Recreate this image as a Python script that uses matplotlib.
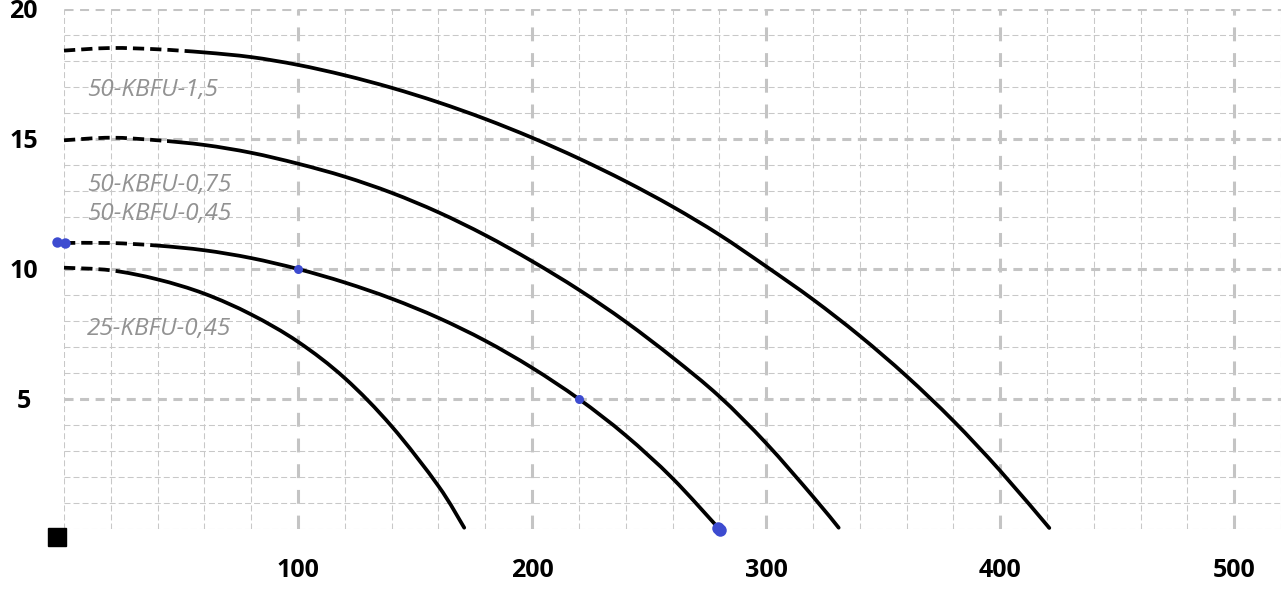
import matplotlib
matplotlib.use("Agg")
import numpy as np
import matplotlib.pyplot as plt
from matplotlib.patches import Rectangle, PathPatch
from matplotlib.path import Path
from matplotlib.ticker import MultipleLocator
from matplotlib.transforms import offset_copy

# pump curves: flow (x) vs head (y)
q_15 = [0, 20, 40, 60, 80, 100, 120, 140, 160, 180, 200, 220, 240, 260, 280, 300, 320, 340, 360, 380, 400, 421]
h_15 = [18.4, 18.5, 18.45, 18.33, 18.15, 17.85, 17.45, 16.97, 16.41, 15.77, 15.05, 14.25, 13.37, 12.4, 11.32, 10.1, 8.83, 7.43, 5.88, 4.16, 2.24, 0.04]

q_075 = [0, 20, 40, 60, 80, 100, 120, 140, 160, 180, 200, 220, 240, 260, 280, 300, 320, 331]
h_075 = [14.95, 15.05, 14.95, 14.77, 14.47, 14.05, 13.55, 12.93, 12.18, 11.3, 10.3, 9.2, 7.97, 6.6, 5.1, 3.3, 1.25, 0.05]

q_045 = [0, 20, 40, 60, 80, 100, 120, 140, 160, 180, 200, 220, 240, 260, 280]
h_045 = [11.0, 11.0, 10.9, 10.72, 10.42, 10.0, 9.48, 8.86, 8.12, 7.24, 6.2, 5.0, 3.6, 1.95, 0.0]

q_25 = [0, 20, 40, 60, 80, 100, 120, 140, 160, 171]
h_25 = [10.05, 9.95, 9.6, 9.05, 8.25, 7.2, 5.8, 3.95, 1.65, 0.05]

# flow where each curve switches from dashed to solid
dash_until = [52, 44, 37, 23]

curve_names = ["50-KBFU-1,5", "50-KBFU-0,75", "50-KBFU-0,45", "25-KBFU-0,45"]
label_x = [10, 10, 10, 10]
label_y = [16.9, 13.25, 12.1, 7.7]

# blue operating points
pt_q = [-3, 0.5, 100, 220, 279.5, 280.5]
pt_h = [11.05, 11.0, 10.0, 5.0, 0.05, -0.05]
pt_size = [7.5, 7.5, 6.5, 6.5, 9, 9]

x_ticks = [100, 200, 300, 400, 500]
y_ticks = [5, 10, 15, 20]


def smooth_path(xs, ys):
    # catmull-rom through the read points, drawn as cubic beziers
    p = np.column_stack([xs, ys]).astype(float)
    n = len(p)
    verts = [p[0]]
    codes = [Path.MOVETO]
    for i in range(n - 1):
        p0 = p[max(i - 1, 0)]
        p1 = p[i]
        p2 = p[i + 1]
        p3 = p[min(i + 2, n - 1)]
        verts += [p1 + (p2 - p0) / 6, p2 - (p3 - p1) / 6, p2]
        codes += [Path.CURVE4] * 3
    return Path(verts, codes)


plt.rcParams['font.family'] = ['Open Sans', 'DejaVu Sans']

fig = plt.figure(figsize=(12.87, 5.95), dpi=100)
ax = fig.add_axes([64 / 1287, 1 - 529 / 595, (1281 - 64) / 1287, (529 - 9) / 595])
ax.set_xlim(0, 520)
ax.set_ylim(0, 20)

for s in ax.spines.values():
    s.set_visible(False)

ax.xaxis.set_minor_locator(MultipleLocator(20))
ax.yaxis.set_minor_locator(MultipleLocator(1))
ax.set_xticks(x_ticks)
ax.set_yticks(y_ticks)
ax.set_xticklabels([str(v) for v in x_ticks], fontsize=18, fontweight='bold')
ax.set_yticklabels([str(v) for v in y_ticks], fontsize=18, fontweight='bold', ha='center')
ax.tick_params(axis='both', which='both', length=0)
ax.tick_params(axis='x', pad=21)
ax.tick_params(axis='y', pad=29)

ax.grid(which='minor', color='#c8c8c8', lw=0.75, linestyle=(0, (4.3 / 0.75, 2.2 / 0.75)))
ax.xaxis.grid(which='major', color='#c4c4c4', lw=2.2, linestyle=(0, (10 / 2.2, 8.5 / 2.2)))
ax.yaxis.grid(which='major', color='#c4c4c4', lw=2.2, linestyle=(0, (6.5 / 2.2, 4.7 / 2.2)))
ax.set_axisbelow(True)

curves = [(q_15, h_15), (q_075, h_075), (q_045, h_045), (q_25, h_25)]
for (q, h), split in zip(curves, dash_until):
    path = smooth_path(q, h)
    dashed = PathPatch(path, fill=False, edgecolor='black', lw=2.7,
                       linestyle=(0, (3, 1.6)), capstyle='butt', transform=ax.transData)
    ax.add_patch(dashed)
    dashed.set_clip_path(Rectangle((-10, -5), split + 10, 30, transform=ax.transData))
    solid = PathPatch(path, fill=False, edgecolor='black', lw=2.7,
                      capstyle='round', transform=ax.transData)
    ax.add_patch(solid)
    solid.set_clip_path(Rectangle((split, -5), 600, 30, transform=ax.transData))

for name, lx, ly in zip(curve_names, label_x, label_y):
    ax.text(lx, ly, name, fontsize=17.5, style='italic', color='#929292', va='center', ha='left')

for q, h, s in zip(pt_q, pt_h, pt_size):
    ax.plot(q, h, 'o', color='#3d4bd0', markersize=s, markeredgewidth=0, clip_on=False, zorder=5)

# small black square at the corner of the origin
sq = offset_copy(ax.transData, fig=fig, x=-7.5, y=-7.5, units='dots')
ax.plot(0, 0, 's', color='black', markersize=12.5, transform=sq, clip_on=False)

fig.savefig('out.png', dpi=100)
